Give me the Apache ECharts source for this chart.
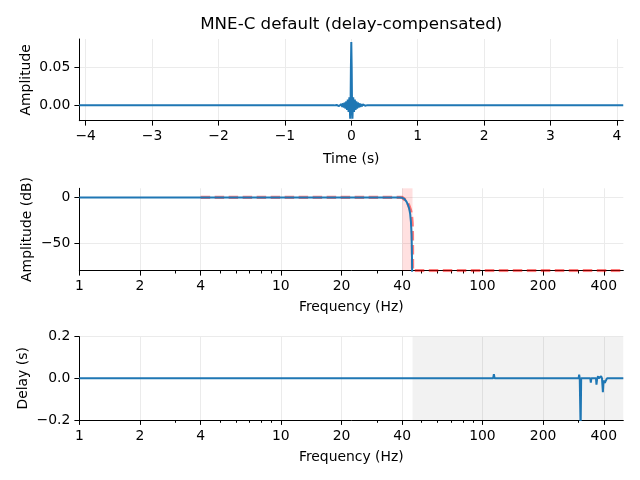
<!DOCTYPE html>
<html><head><meta charset="utf-8">
<script src="https://cdn.jsdelivr.net/npm/echarts@6/dist/echarts.min.js"></script>
<style>html,body{margin:0;padding:0;background:#fff}#c{width:640px;height:480px}</style>
</head><body><div id="c"></div>
<script>
// ---- data ----
const timeTicks = [-4, -3, -2, -1, 0, 1, 2, 3, 4];
const impulseT = [-4.096, -0.256, -0.244, -0.232, -0.22, -0.208, -0.196, -0.184, -0.172, -0.16, -0.148, -0.136, -0.124, -0.112, -0.1, -0.088, -0.076, -0.064, -0.053, -0.041, -0.029, -0.017, -0.011, -0.006, 0, 0.006, 0.011, 0.017, 0.029, 0.041, 0.053, 0.064, 0.076, 0.088, 0.1, 0.112, 0.124, 0.136, 0.148, 0.16, 0.172, 0.184, 0.196, 0.208, 0.22, 0.232, 0.244, 0.256, 4.095];
const impulseA = [0, -0.0001, 0.0002, -0.0003, 0.0004, -0.0006, 0.0008, -0.001, 0.0012, -0.0015, 0.0018, -0.0022, 0.0026, -0.0031, 0.0037, -0.0044, 0.0052, -0.0062, 0.0075, -0.009, 0.0105, -0.018, 0.0, 0.05, 0.0842, 0.05, 0.0, -0.018, 0.0105, -0.009, 0.0075, -0.0062, 0.0052, -0.0044, 0.0037, -0.0031, 0.0026, -0.0022, 0.0018, -0.0015, 0.0012, -0.001, 0.0008, -0.0006, 0.0004, -0.0003, 0.0002, -0.0001, 0];

const freqTicks = [1, 2, 4, 10, 20, 40, 100, 200, 400];
const freqMinorTicks = [3, 5, 6, 7, 8, 9, 30, 50, 60, 70, 80, 90, 300];

const respF  = [1, 10, 30, 39, 40, 41, 42, 42.7, 43.3, 43.8, 44.2, 44.5, 44.65, 44.75, 44.85];
const respDb = [0, 0, 0, 0, -0.4, -1.5, -4.5, -8, -12, -18, -27, -40, -55, -70, -95];

const idealF  = [4, 40, 41, 42, 43, 44, 44.5, 44.8, 44.9, 44.95, 44.99, 45, 500];
const idealDb = [0, 0, -1.9, -4.4, -8, -14, -20, -28, -34, -40, -54, -80, -80];
const transBand = [40, 45];

const delayF = [1, 57, 57.8, 58.5, 90, 90.7, 91.5, 113, 114, 115, 119.5, 120, 120.5, 300, 302, 304, 305, 307, 309, 343, 345, 347, 366, 368, 371, 375, 378, 381, 385, 388, 392, 396, 399, 405, 410, 412, 415, 500];
const delayS = [0, 0, -0.006, 0, 0, 0.003, 0, 0, 0.02, 0, 0, 0.004, 0, 0, 0.018, 0, 0, -0.25, 0, 0, -0.02, 0, 0, -0.03, 0, 0.01, 0, -0.006, 0, 0.01, 0, -0.066, -0.01, -0.022, -0.01, -0.005, 0, 0];
const stopBand = [45, 500];

// ---- chart ----
const FONT = 'DejaVu Sans';
const FS = 13.9;
const BLUE = '#1f77b4';
const GRIDC = '#ebebeb';
const minus = s => String(s).replace('-', '\u2212');
const pairs = (xs, ys) => xs.map((x, i) => [x, ys[i]]);
const lg = v => Math.log10(v);
const FMAX = 500;

const L = 79.3, W = 544;
const labelStyle = {fontFamily: FONT, fontSize: FS, color: '#000'};
const nameStyle = {fontFamily: FONT, fontSize: FS, color: '#000'};
const axLine = {show: true, onZero: false, lineStyle: {color: '#000', width: 1}};
const tick = vals => ({show: true, inside: false, length: 4.9, lineStyle: {color: '#000', width: 1}, customValues: vals});

function freqAxes(gi) {
  return [
    {type: 'log', logBase: 10, gridIndex: gi, min: 1, max: FMAX, show: false, position: 'bottom'},
    {type: 'value', gridIndex: gi, min: 0, max: lg(FMAX), position: 'bottom',
     name: 'Frequency (Hz)', nameLocation: 'middle', nameGap: 30, nameMoveOverlap: false, nameTextStyle: nameStyle,
     axisLine: axLine, axisTick: tick(freqTicks.map(lg)),
     axisLabel: Object.assign({show: true, margin: 9, customValues: freqTicks.map(lg),
       formatter: v => String(Math.round(Math.pow(10, v)))}, labelStyle),
     splitLine: {show: true, lineStyle: {color: GRIDC, width: 1}}},
    {type: 'value', gridIndex: gi, min: 0, max: lg(FMAX), position: 'bottom',
     axisLine: {show: false, onZero: false},
     axisTick: {show: true, inside: false, length: 2.8, lineStyle: {color: '#000', width: 1}, customValues: freqMinorTicks.map(lg)},
     axisLabel: {show: false}, splitLine: {show: false}}
  ];
}

const option = {
  animation: false,
  backgroundColor: '#fff',
  graphic: [{type: 'text', x: 351.3, y: 25, style: {text: 'MNE-C default (delay-compensated)', font: '16.7px "DejaVu Sans"', fill: '#000', textAlign: 'center', textVerticalAlign: 'middle'}}],
  grid: [
    {left: L, top: 39, width: W, height: 81.7},
    {left: L, top: 188.3, width: W, height: 82.4},
    {left: L, top: 336.7, width: W, height: 83.3}
  ],
  xAxis: [
    {type: 'value', gridIndex: 0, min: -4.096, max: 4.096, position: 'bottom',
     name: 'Time (s)', nameLocation: 'middle', nameGap: 31.5, nameMoveOverlap: false, nameTextStyle: nameStyle,
     axisLine: axLine, axisTick: tick(timeTicks),
     axisLabel: Object.assign({show: true, margin: 9, customValues: timeTicks, formatter: v => minus(v)}, labelStyle),
     splitLine: {show: true, lineStyle: {color: GRIDC, width: 1}}}
  ].concat(freqAxes(1), freqAxes(2)),
  yAxis: [
    {type: 'value', gridIndex: 0, min: -0.0205, max: 0.0882, position: 'left',
     name: 'Amplitude', nameLocation: 'middle', nameGap: 46, nameMoveOverlap: false, nameTextStyle: nameStyle,
     axisLine: axLine, axisTick: tick([0, 0.05]),
     axisLabel: Object.assign({show: true, margin: 9, customValues: [0, 0.05], formatter: v => minus(v.toFixed(2))}, labelStyle),
     splitLine: {show: true, lineStyle: {color: GRIDC, width: 1}}},
    {type: 'value', gridIndex: 1, min: -80, max: 10, position: 'left',
     name: 'Amplitude (dB)', nameLocation: 'middle', nameGap: 45, nameMoveOverlap: false, nameTextStyle: nameStyle,
     axisLine: axLine, axisTick: tick([-50, 0]),
     axisLabel: Object.assign({show: true, margin: 9, customValues: [-50, 0], formatter: v => minus(Math.round(v))}, labelStyle),
     splitLine: {show: true, lineStyle: {color: GRIDC, width: 1}}},
    {type: 'value', gridIndex: 2, min: -0.2, max: 0.2, interval: 0.2, position: 'left',
     name: 'Delay (s)', nameLocation: 'middle', nameGap: 48.5, nameMoveOverlap: false, nameTextStyle: nameStyle,
     axisLine: axLine, axisTick: {show: true, inside: false, length: 4.9, lineStyle: {color: '#000', width: 1}},
     axisLabel: Object.assign({show: true, margin: 9, formatter: v => minus(v.toFixed(1))}, labelStyle),
     splitLine: {show: true, lineStyle: {color: GRIDC, width: 1}}}
  ],
  series: [
    {type: 'line', xAxisIndex: 0, yAxisIndex: 0, data: pairs(impulseT, impulseA),
     showSymbol: false, symbol: 'none', lineStyle: {color: BLUE, width: 2}, z: 3},
    {type: 'line', xAxisIndex: 1, yAxisIndex: 1, data: pairs(idealF, idealDb),
     showSymbol: false, symbol: 'none', lineStyle: {color: 'rgba(255,0,0,0.5)', width: 3.3, type: [9.5, 4.5]}, z: 2,
     markArea: {silent: true, itemStyle: {color: 'rgba(255,0,0,0.12)'}, data: [[{xAxis: transBand[0]}, {xAxis: transBand[1]}]]}},
    {type: 'line', xAxisIndex: 1, yAxisIndex: 1, data: pairs(respF, respDb),
     showSymbol: false, symbol: 'none', lineStyle: {color: BLUE, width: 2}, z: 3},
    {type: 'line', xAxisIndex: 4, yAxisIndex: 2, data: pairs(delayF, delayS),
     showSymbol: false, symbol: 'none', lineStyle: {color: BLUE, width: 2}, z: 3,
     markArea: {silent: true, itemStyle: {color: 'rgba(0,0,0,0.05)'}, data: [[{xAxis: stopBand[0]}, {xAxis: stopBand[1]}]]}}
  ]
};
const chart = echarts.init(document.getElementById('c'), null, {renderer: 'canvas'});
chart.setOption(option);
</script></body></html>
